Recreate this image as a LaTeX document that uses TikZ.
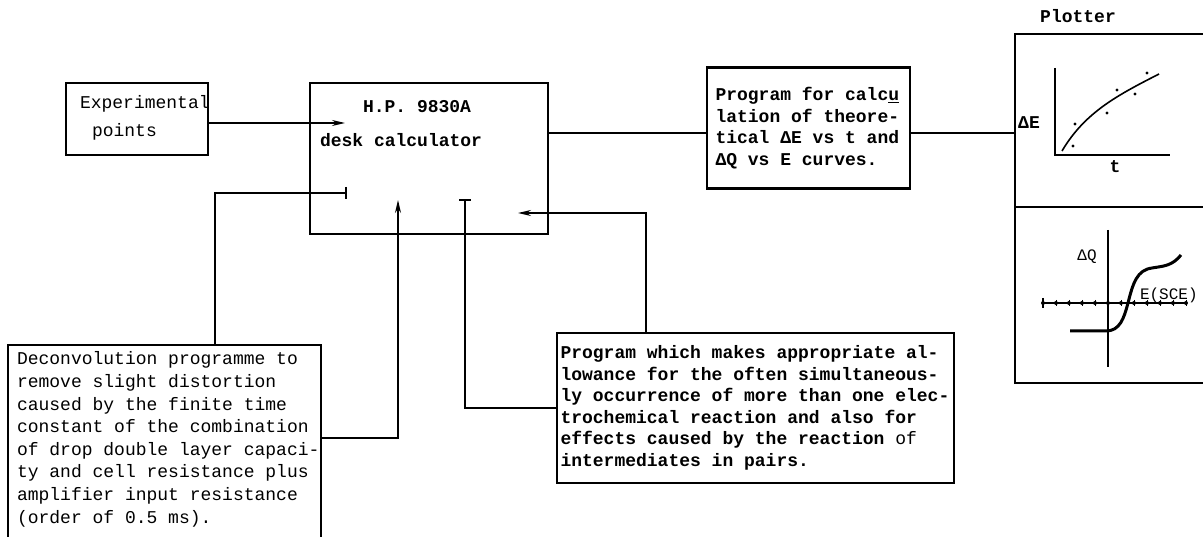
\documentclass[tikz,border=0pt]{standalone}
\usepackage{fontspec}
\newfontfamily\mono{Liberation Mono}
\usetikzlibrary{positioning, arrows.meta}

% full typewriter spaces inside aligned nodes
\newcommand\wordsp{\spaceskip=0.6em\xspaceskip=0.6em\relax}

\tikzset{
  box/.style={draw, line width=1.6pt, inner sep=0pt, outer sep=0pt},
  typed/.style={font=\mono\fontsize{18}{22.6}\selectfont, inner sep=0pt, outer sep=0pt},
  typedbf/.style={font=\mono\bfseries\fontsize{18}{21.5}\selectfont, inner sep=0pt, outer sep=0pt},
  link/.style={line width=1.6pt},
  tee/.style={line width=1.6pt, -{Bar[width=12pt]}},
}

\begin{document}
\begin{tikzpicture}[x=1pt, y=-1pt, >={Stealth[length=13pt,width=6pt]}]
    \useasboundingbox (0,0) rectangle (1203,537);
    \clip (0,0) rectangle (1203,537);

    % boxes
    \node[box, minimum width=142pt, minimum height=72pt] (exp) at (137,119) {};
    \node[box, minimum width=238pt, minimum height=151pt] (calc) at (429,158.5) {};
    \node[box, line width=2.4pt, minimum width=203pt, minimum height=121pt, typedbf,
          text width=186pt, align=left] (prog) at (808.5,128)
        {\wordsp Program for calc\underline{u}\\lation of theore-\\tical ΔE vs t and\\ΔQ vs E curves.};
    \node[box, minimum width=313pt, minimum height=210pt] (deconv) at (164.5,450) {};
    \node[box, line width=2pt, minimum width=397pt, minimum height=150pt, typedbf,
          text width=390pt, align=left] (allow) at (755.5,408)
        {\wordsp Program which makes appropriate al-\\lowance for the often simultaneous-\\ly occurrence of more than one elec-\\trochemical reaction and also for\\effects caused by the reaction {\mdseries of}\\intermediates in pairs.};
    \node[box, minimum width=205pt, minimum height=173pt] (plotup) at (1117.5,120.5) {};
    \node[box, minimum width=205pt, minimum height=176pt] (plotdown) at (1117.5,295) {};

    % texts
    \node[typed, text width=135pt, align=left, anchor=base west] (exptext) at (80,109)
        {\wordsp Experimental\\[5.4pt]\hspace{12pt}points};
    \node[typedbf, anchor=base west] (hp) at (363,113) {\wordsp H.P. 9830A};
    \node[typedbf, anchor=base west] (desk) at (320,147) {desk calculator};
    \node[typed, text width=304pt, align=left, anchor=base west] (deconvtext) at (17,365)
        {\wordsp Deconvolution programme to\\remove slight distortion\\caused by the finite time\\constant of the combination\\of drop double layer capaci-\\ty and cell resistance plus\\amplifier input resistance\\(order of 0.5 ms).};
    \node[typedbf, anchor=base] (plotter) at (1078,23) {Plotter};
    \node[typedbf, anchor=base] (dE) at (1029,129) {ΔE};
    \node[typedbf, anchor=base] (tlab) at (1115,173) {t};
    \node[typed, font=\mono\fontsize{16}{18}\selectfont] (dQ) at (1087,257) {ΔQ};
    \node[typed, font=\mono\fontsize{16}{18}\selectfont, anchor=base west] (esce) at (1140,300) {E(SCE)};

    % ends of the connectors
    \coordinate (inA) at (345,123);
    \coordinate (tA) at (347,193);
    \coordinate (upA) at (398,200);
    \coordinate (tB) at (465,199);
    \coordinate (inB) at (518,213);
    \coordinate (progin) at ([yshift=-5pt]prog.west);
    \coordinate (progout) at ([yshift=-5pt]prog.east);

    % connectors
    \draw[link,->] (exp.east |- inA) -- (inA);
    \draw[link] (calc.east |- progin) -- (progin);
    \draw[link] (progout) -- (progout -| plotup.west);
    \draw[tee] ([xshift=50.5pt]deconv.north) |- (tA);
    \draw[link,->] ([yshift=12pt]deconv.east) -| (upA);
    \draw[tee] (allow.west) -| (tB);
    \draw[link,->] ([xshift=-109.5pt]allow.north) |- (inB);

    % upper plot
    \draw[line width=1.4pt] (1055,68) -- (1055,155) -- (1170,155);
    \draw[line width=1.6pt] (1062,151) .. controls (1085,112) and (1118,95) .. (1159,74);
    \foreach \px/\py in {1075/124, 1073/146, 1107/113, 1117/90, 1135/94, 1147/73}
        \fill (\px,\py) circle (1.7pt);

    % lower plot
    \draw[line width=1.4pt] (1108,230) -- (1108,367);
    \draw[line width=1.4pt] (1043,303) -- (1186,303);
    \foreach \k in {0,...,11} {
        \fill (1043+13*\k,303) circle (2pt);
        \draw[line width=1pt] (1043+13*\k,300) -- (1043+13*\k,306);
    }
    \draw[line width=1.4pt] (1043,298) -- (1043,308);
    \draw[line width=3pt] (1070,331) -- (1106,331)
        .. controls (1120,331) and (1124,318) .. (1128,303)
        .. controls (1133,283) and (1137,270) .. (1152,268)
        .. controls (1164,266) and (1172,266) .. (1181,255);
\end{tikzpicture}
\end{document}
